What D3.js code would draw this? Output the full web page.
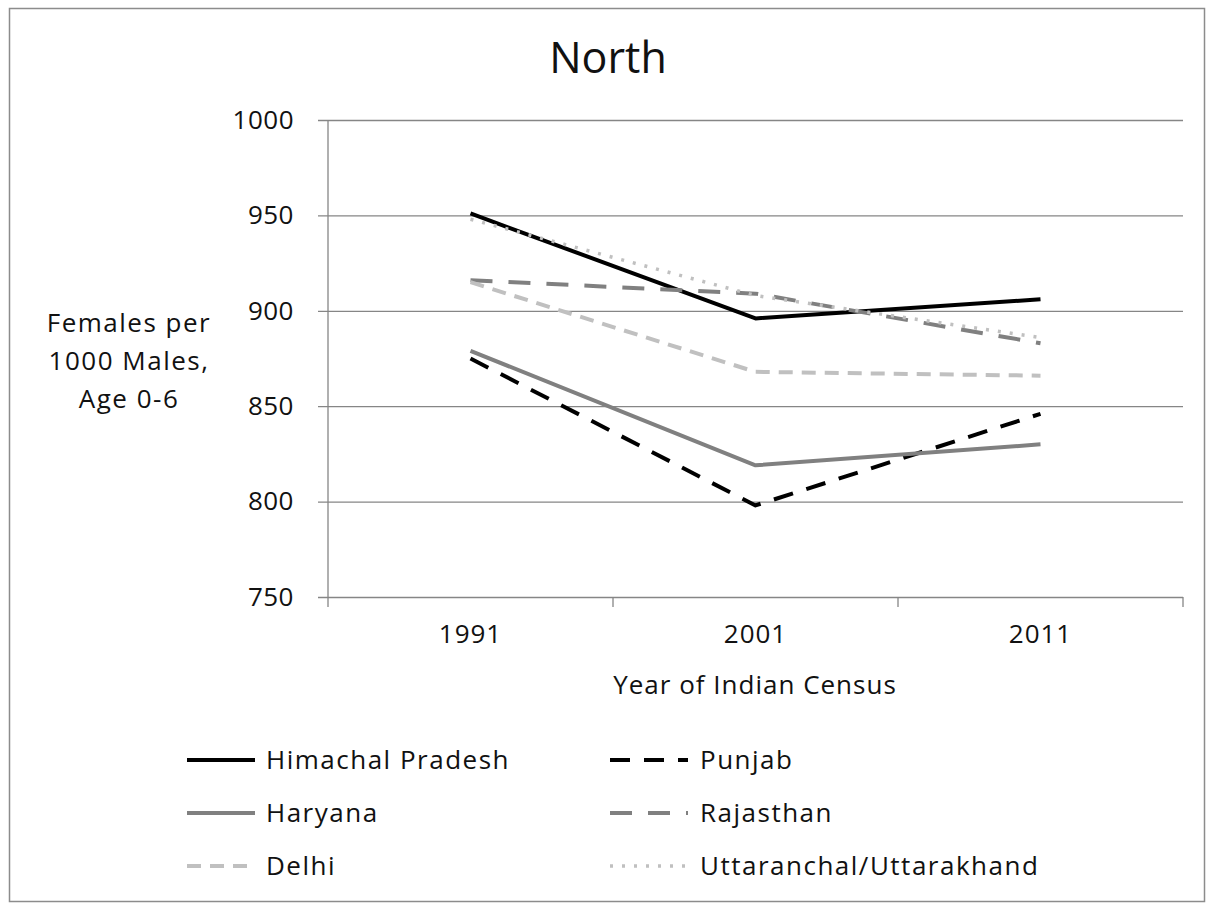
<!DOCTYPE html>
<html lang="en">
<head>
  <meta charset="UTF-8">
	<title>North</title>
	<style>
		body, html {
			margin: 0;
			padding: 0;
			background-color: white;
		}
	</style>
</head>
<body>
	<svg id="svg" width="1206" height="903"></svg>
	<script src="https://d3js.org/d3.v7.min.js"></script>
	<script>
		const years = ['1991', '2001', '2011']
		const yTicks = [750, 800, 850, 900, 950, 1000]

		const himachal = [951, 896, 906]
		const punjab = [875, 798, 846]
		const haryana = [879, 819, 830]
		const rajasthan = [916, 909, 883]
		const delhi = [915, 868, 866]
		const uttarakhand = [948, 908, 886]

		const names = ['Himachal Pradesh', 'Punjab', 'Haryana', 'Rajasthan', 'Delhi', 'Uttaranchal/Uttarakhand']
		const seriesValues = [himachal, punjab, haryana, rajasthan, delhi, uttarakhand]

		// line looks, same order as names
		const styles = [
			{ color: '#000000', dash: null, width: 4 },
			{ color: '#000000', dash: '20,14', width: 4 },
			{ color: '#808080', dash: null, width: 4 },
			{ color: '#808080', dash: '22,16', width: 4 },
			{ color: '#c0c0c0', dash: '14,9', width: 4 },
			{ color: '#c0c0c0', dash: '3,9', width: 3.5 }
		]

		const font = '"Open Sans", Lato, sans-serif'
		const svg = d3.select('#svg')

		// outer chart border
		svg.append('rect')
			.attr('x', 9.5).attr('y', 8.5)
			.attr('width', 1195).attr('height', 893)
			.attr('fill', 'white')
			.attr('stroke', '#8c8c8c')
			.attr('stroke-width', 1.5)

		const plotLeft = 328, plotRight = 1183, plotTop = 120, plotBottom = 597

		const xScale = d3.scaleBand()
			.domain(years)
			.range([plotLeft, plotRight])

		const yScale = d3.scaleLinear()
			.domain([750, 1000])
			.range([plotBottom, plotTop])

		// gridlines + y ticks
		const yAxis = d3.axisLeft(yScale)
			.tickValues(yTicks)
			.tickSize(-(plotRight - plotLeft))
			.tickPadding(34)
			.tickFormat(d3.format('d'))

		const gy = svg.append('g')
			.attr('transform', `translate(${plotLeft},0)`)
			.call(yAxis)
		gy.select('.domain').remove()
		gy.selectAll('.tick line')
			.attr('x1', -10)
			.attr('stroke', '#868686')
			.attr('stroke-width', 1.3)
		gy.selectAll('.tick text')
			.style('font-family', font)
			.style('font-size', '26px')
			.style('letter-spacing', '0.5px')
			.attr('fill', '#111')

		// y axis line
		svg.append('line')
			.attr('x1', plotLeft).attr('x2', plotLeft)
			.attr('y1', plotTop).attr('y2', plotBottom)
			.attr('stroke', '#868686')
			.attr('stroke-width', 1.3)

		// x axis
		const xAxis = d3.axisBottom(xScale)
			.tickSize(0)
			.tickPadding(28)
		const gx = svg.append('g')
			.attr('transform', `translate(0,${plotBottom})`)
			.call(xAxis)
		gx.select('.domain').remove()
		gx.selectAll('.tick text')
			.style('font-family', font)
			.style('font-size', '26px')
			.style('letter-spacing', '1px')
			.attr('fill', '#111')

		// band boundary ticks
		svg.append('g')
			.selectAll('line')
			.data(years.concat(['end']))
			.enter()
			.append('line')
			.attr('x1', (d, i) => i < years.length ? xScale(d) : plotRight)
			.attr('x2', (d, i) => i < years.length ? xScale(d) : plotRight)
			.attr('y1', plotBottom)
			.attr('y2', plotBottom + 10)
			.attr('stroke', '#868686')
			.attr('stroke-width', 1.3)

		// lines
		const line = d3.line()
			.x((d, i) => xScale(years[i]) + xScale.bandwidth() / 2)
			.y(d => yScale(d))

		svg.append('g')
			.selectAll('path')
			.data(seriesValues)
			.enter()
			.append('path')
			.attr('d', d => line(d))
			.attr('fill', 'none')
			.attr('stroke', (d, i) => styles[i].color)
			.attr('stroke-width', (d, i) => styles[i].width)
			.attr('stroke-dasharray', (d, i) => styles[i].dash)
			.attr('stroke-linejoin', 'round')

		// title
		svg.append('text')
			.attr('x', 608)
			.attr('y', 73)
			.attr('text-anchor', 'middle')
			.style('font-family', font)
			.style('font-size', '43px')
			.attr('fill', '#111')
			.text('North')

		// y axis title
		svg.append('text')
			.attr('text-anchor', 'middle')
			.style('font-family', font)
			.style('font-size', '26px')
			.style('letter-spacing', '1.5px')
			.attr('fill', '#111')
			.selectAll('tspan')
			.data(['Females per', '1000 Males,', 'Age 0-6'])
			.enter()
			.append('tspan')
			.attr('x', 129)
			.attr('y', (d, i) => 332 + i * 38)
			.text(d => d)

		// x axis title
		svg.append('text')
			.attr('x', 755)
			.attr('y', 694)
			.attr('text-anchor', 'middle')
			.style('font-family', font)
			.style('font-size', '26px')
			.style('letter-spacing', '1px')
			.attr('fill', '#111')
			.text('Year of Indian Census')

		// legend
		const legend = svg.append('g')
			.selectAll('g')
			.data(names)
			.enter()
			.append('g')
			.attr('transform', (d, i) => `translate(${i % 2 === 0 ? 187 : 610},${760 + Math.floor(i / 2) * 53})`)

		legend.append('line')
			.attr('x1', 0)
			.attr('x2', (d, i) => i % 2 === 0 ? 68 : 78)
			.attr('y1', 0).attr('y2', 0)
			.attr('stroke', (d, i) => styles[i].color)
			.attr('stroke-width', (d, i) => styles[i].width)
			.attr('stroke-dasharray', (d, i) => styles[i].dash)

		legend.append('text')
			.attr('x', (d, i) => i % 2 === 0 ? 79 : 90)
			.attr('y', 9)
			.style('font-family', font)
			.style('font-size', '26px')
			.style('letter-spacing', '1.5px')
			.attr('fill', '#111')
			.text(d => d)
	</script>
</body>
</html>
